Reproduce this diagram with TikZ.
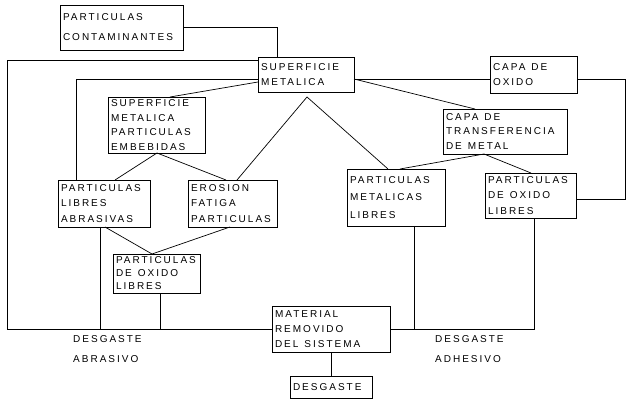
\documentclass[tikz,border=0pt]{standalone}
\usepackage{fontspec}
\usetikzlibrary{calc}
\newfontfamily\platefont[LetterSpace=20]{Liberation Sans}
\newcommand\gapsp{\hspace{6pt}}

\begin{document}
\begin{tikzpicture}[x=1pt,y=-1pt,
  box/.style={draw, line width=0.9pt, anchor=north west, inner xsep=3pt, inner ysep=1pt, outer sep=0pt,
    align=left, font=\platefont\fontsize{10}{15.5}\selectfont},
  link/.style={line width=0.7pt},
  tag/.style={anchor=north west, inner sep=0pt, align=left, font=\platefont\fontsize{10}{20}\selectfont}]
  \useasboundingbox (0,0) rectangle (626,403);

  % Boxes
  \node[box, text width=117pt, minimum height=45pt, font=\platefont\fontsize{10}{20}\selectfont] (con) at (60,5) {PARTICULAS\\CONTAMINANTES};
  \node[box, text width=90pt, minimum height=35pt] (sup) at (258,57) {SUPERFICIE\\METALICA};
  \node[box, text width=81pt, minimum height=37pt] (oxi) at (490,56) {CAPA\gapsp DE\\OXIDO};
  \node[box, text width=91pt, minimum height=56pt, font=\platefont\fontsize{10}{14.5}\selectfont] (emb) at (108,97) {SUPERFICIE\\METALICA\\PARTICULAS\\EMBEBIDAS};
  \node[box, text width=118pt, minimum height=45pt, font=\platefont\fontsize{10}{14.5}\selectfont] (tra) at (443,109) {CAPA\gapsp DE\\TRANSFERENCIA\\DE\gapsp METAL};
  \node[box, text width=86pt, minimum height=47pt] (lab) at (58,180) {PARTICULAS\\LIBRES\\ABRASIVAS};
  \node[box, text width=83pt, minimum height=47pt] (ero) at (188,180) {EROSION\\FATIGA\\PARTICULAS};
  \node[box, text width=92pt, minimum height=57pt, font=\platefont\fontsize{10}{17.5}\selectfont] (met) at (347,169) {PARTICULAS\\METALICAS\\LIBRES};
  \node[box, text width=85pt, minimum height=45pt] (dox) at (485,173) {PARTICULAS\\DE\gapsp OXIDO\\LIBRES};
  \node[box, text width=81pt, minimum height=39pt, font=\platefont\fontsize{10}{13}\selectfont] (pox) at (113,254) {PARTICULAS\\DE\gapsp OXIDO\\LIBRES};
  \node[box, text width=112pt, minimum height=46pt, font=\platefont\fontsize{10}{15}\selectfont] (mat) at (272,306) {MATERIAL\\REMOVIDO\\DEL\gapsp SISTEMA};
  \node[box, text width=76pt, minimum height=22pt] (des) at (290,376) {DESGASTE};

  % Labels under the wear line
  \node[tag] (abr) at (73,335) {DESGASTE\\ABRASIVO};
  \node[tag] (adh) at (435,335) {DESGASTE\\ADHESIVO};

  % Contaminants into the surface
  \draw[link] (con.east) -| ($(sup.north west)+(19,0)$);

  % Outer loop round the left side
  \coordinate (lft) at (7,0);
  \draw[link] ($(sup.north west)+(0,3)$) -| (lft |- mat.west) -- (mat.west);
  \draw[link] ($(sup.north west)+(0,22)$) -| ($(lab.north west)+(18,0)$);
  \draw[link] ($(sup.north west)+(0,25)$) -- ($(emb.north west)+(62,0)$);

  % Apex under the metal surface
  \coordinate (apx) at ($(sup.south)+(1,5)$);
  \draw[link] ($(ero.north west)+(49,0)$) -- (apx) -- ($(met.north west)+(41,0)$);

  % Oxide layer and transfer layer
  \draw[link] ($(sup.north east)+(0,22)$) -- ($(oxi.north west)+(0,23)$);
  \draw[link] ($(sup.north east)+(0,22)$) -- ($(tra.north west)+(32,0)$);
  \coordinate (rgt) at (625,0);
  \draw[link] ($(oxi.north east)+(0,23)$) -| ($(rgt |- dox.north)+(0,26)$) -- ($(dox.north east)+(0,26)$);
  \draw[link] ($(met.north west)+(53,0)$) -- ($(tra.south west)+(41,0)$) -- ($(dox.north west)+(46,0)$);

  % Embedded particles branch
  \draw[link] ($(lab.north west)+(57,0)$) -- ($(emb.south west)+(49,0)$) -- ($(ero.north west)+(38,0)$);
  \draw[link] ($(lab.south west)+(47,0)$) -- ($(pox.north west)+(39,0)$) -- ($(ero.south west)+(42,0)$);

  % Drops to the wear line
  \coordinate (lab1) at ($(lab.south west)+(42,0)$);
  \coordinate (pox1) at ($(pox.south west)+(47,0)$);
  \coordinate (met1) at ($(met.south west)+(67,0)$);
  \coordinate (dox1) at ($(dox.south west)+(49,0)$);
  \draw[link] (lab1) -- (lab1 |- mat.west);
  \draw[link] (pox1) -- (pox1 |- mat.west);
  \draw[link] (mat.east) -- (dox1 |- mat.east) -- (dox1);
  \draw[link] (met1) -- (met1 |- mat.east);
  \draw[link] (mat.south) -- (des.north);
\end{tikzpicture}
\end{document}
